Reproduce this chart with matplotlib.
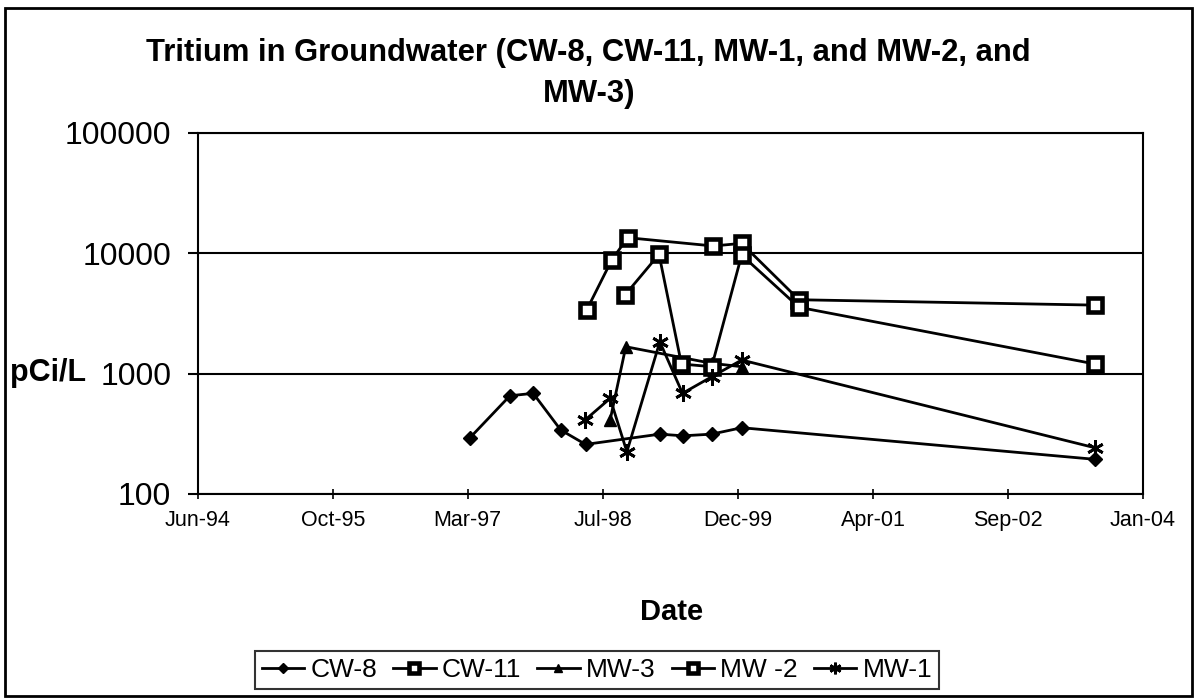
import datetime as dt
import matplotlib
matplotlib.use("Agg")
import matplotlib.pyplot as plt
import matplotlib.dates as mdates
from matplotlib.ticker import FixedLocator, FixedFormatter, NullLocator
from matplotlib.patches import Rectangle

plt.rcParams['font.family'] = ['Liberation Sans', 'DejaVu Sans']

# values (pCi/L)
cw8_dates = ['1997-03-19', '1997-08-14', '1997-11-08', '1998-02-18', '1998-05-21',
             '1999-02-20', '1999-05-17', '1999-08-31', '1999-12-20', '2003-07-20']
cw8_vals = [293, 654, 685, 340, 258, 314, 304, 314, 355, 194]

cw11_dates = ['1998-05-25', '1998-08-26', '1998-10-24', '1999-09-06', '1999-12-20',
              '2000-07-19', '2003-07-20']
cw11_vals = [3365, 8770, 13430, 11460, 12050, 4100, 3700]

mw3_dates = ['1998-08-20', '1998-10-17', '1999-08-31', '1999-12-20']
mw3_vals = [411, 1670, 1216, 1140]

mw2_dates = ['1998-10-14', '1999-02-17', '1999-05-11', '1999-08-31', '1999-12-20',
             '2000-07-19', '2003-07-20']
mw2_vals = [4490, 9770, 1200, 1140, 9640, 3550, 1200]

mw1_dates = ['1998-05-19', '1998-08-20', '1998-10-21', '1999-02-20', '1999-05-15',
             '1999-08-31', '1999-12-20', '2003-07-20']
mw1_vals = [411, 622, 224, 1836, 685, 940, 1295, 242]

y_ticks = [100, 1000, 10000, 100000]
y_labels = ['100', '1000', '10000', '100000']


def to_dates(lst):
    return [dt.datetime.strptime(s, '%Y-%m-%d') for s in lst]


fig = plt.figure(figsize=(11.99, 6.99), dpi=100)
ax = fig.add_axes([0.1649, 0.2933, 0.9533 - 0.1649, 0.8102 - 0.2933])

lw = 2
ax.plot(to_dates(cw8_dates), cw8_vals, color='black', lw=lw, marker='D', ms=7,
        mfc='black', mec='black', label='CW-8')
ax.plot(to_dates(cw11_dates), cw11_vals, color='black', lw=lw, marker='s', ms=9.5,
        mfc='white', mec='black', mew=3.3, label='CW-11')
ax.plot(to_dates(mw3_dates), mw3_vals, color='black', lw=lw, marker='^', ms=9,
        mfc='black', mec='black', label='MW-3')
ax.plot(to_dates(mw2_dates), mw2_vals, color='black', lw=lw, marker='s', ms=9.5,
        mfc='white', mec='black', mew=3.3, label='MW -2')
ax.plot(to_dates(mw1_dates), mw1_vals, color='black', lw=lw, marker=(6, 2, 0), ms=12,
        mec='black', mew=2, label='MW-1')

# excel-style date axis: serial 34500 .. 38000, step 500 days
base = dt.datetime(1899, 12, 30)
xmin = base + dt.timedelta(days=34500)
xmax = base + dt.timedelta(days=38000)
xticks = [base + dt.timedelta(days=34500 + 500 * k) for k in range(8)]
ax.set_xlim(xmin, xmax)
ax.xaxis.set_major_locator(FixedLocator(mdates.date2num(xticks)))
ax.xaxis.set_major_formatter(mdates.DateFormatter('%b-%y'))

ax.set_yscale('log')
ax.set_ylim(100, 100000)
ax.yaxis.set_major_locator(FixedLocator(y_ticks))
ax.yaxis.set_major_formatter(FixedFormatter(y_labels))
ax.yaxis.set_minor_locator(NullLocator())

ax.grid(axis='y', color='black', lw=1.5)
for sp in ax.spines.values():
    sp.set_color('black')
    sp.set_linewidth(1.5)

ax.tick_params(axis='y', direction='out', length=7, width=1.5, labelsize=23, pad=12)
ax.tick_params(axis='x', direction='inout', length=7, width=1.2, labelsize=15.5, pad=8)

fig.text(0.491, 0.895, 'Tritium in Groundwater (CW-8, CW-11, MW-1, and MW-2, and\nMW-3)',
         ha='center', va='center', fontsize=22.3, fontweight='bold', linespacing=1.5)
fig.text(0.5604, 0.1245, 'Date', ha='center', va='center', fontsize=21, fontweight='bold')
fig.text(0.008, 0.4664, 'pCi/L', ha='left', va='center', fontsize=22, fontweight='bold')

leg = ax.legend(loc='center', bbox_to_anchor=(0.498, 0.0415), bbox_transform=fig.transFigure,
                ncol=5, fontsize=19, frameon=True, fancybox=False, handlelength=1.6,
                handletextpad=0.25, columnspacing=0.6, borderpad=0.25, markerscale=0.7)
leg.get_frame().set_edgecolor('black')
leg.get_frame().set_linewidth(1.5)

fig.patches.append(Rectangle((0.004, 0.004), 0.99, 0.985, transform=fig.transFigure,
                             fill=False, edgecolor='black', lw=2))

fig.savefig('out.png', dpi=100, facecolor='white')
